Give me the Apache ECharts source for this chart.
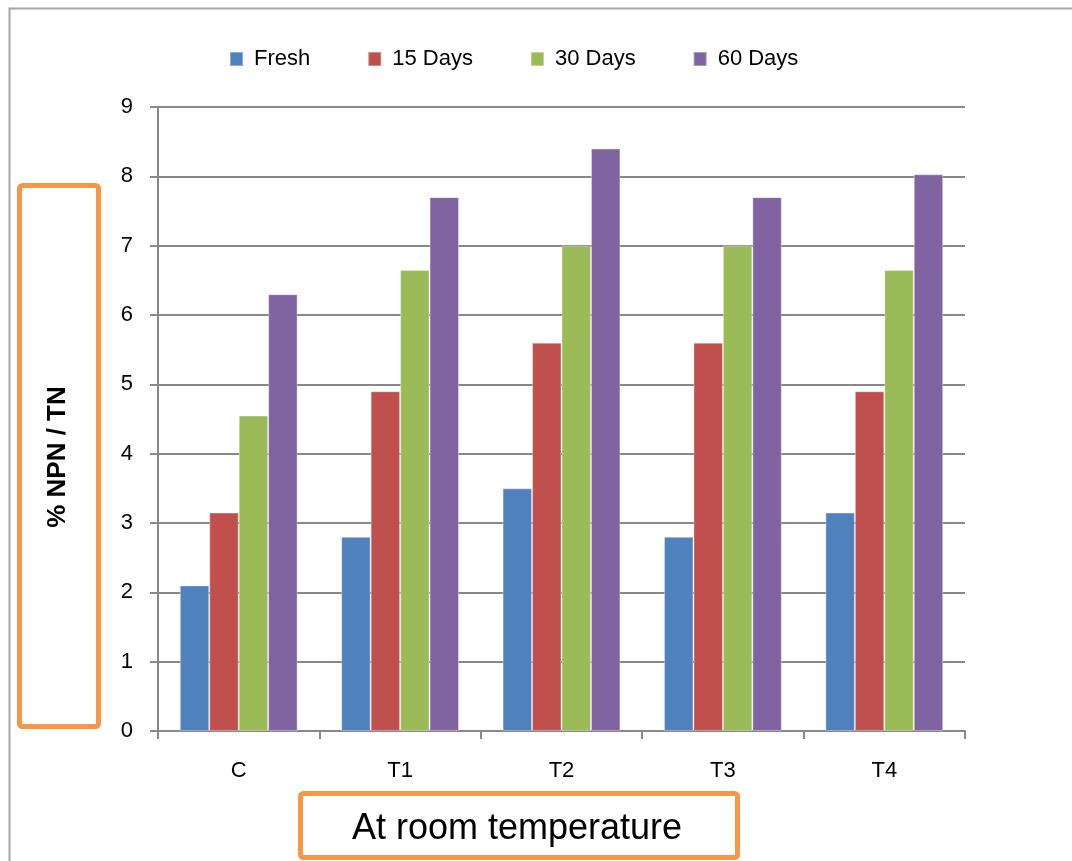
<!DOCTYPE html>
<html>
<head>
<meta charset="utf-8">
<script src="https://cdn.jsdelivr.net/npm/echarts@6/dist/echarts.min.js"></script>
<style>
html,body{margin:0;padding:0;background:#fff;}
#chart{width:1072px;height:861px;}
</style>
</head>
<body>
<div id="chart"></div>
<script>
const categories = ['C', 'T1', 'T2', 'T3', 'T4'];
const seriesNames = ['Fresh', '15 Days', '30 Days', '60 Days'];
const fresh = [2.1, 2.8, 3.5, 2.8, 3.15];
const days15 = [3.15, 4.9, 5.6, 5.6, 4.9];
const days30 = [4.55, 6.65, 7.0, 7.0, 6.65];
const days60 = [6.3, 7.7, 8.4, 7.7, 8.03];
const yTicks = [0, 1, 2, 3, 4, 5, 6, 7, 8, 9];
const yAxisTitle = '% NPN / TN';
const xAxisTitle = 'At room temperature';

const colors = ['#4F81BD', '#C0504D', '#9BBB59', '#8064A2'];
const values = [fresh, days15, days30, days60];
const FONT = '"Liberation Sans", Arial, sans-serif';

const chart = echarts.init(document.getElementById('chart'));
chart.setOption({
  animation: false,
  backgroundColor: '#fff',
  color: colors,
  textStyle: { fontFamily: FONT },
  legend: {
    data: seriesNames,
    left: 224,
    top: 43,
    itemWidth: 13,
    itemHeight: 14,
    itemGap: 57,
    icon: 'rect',
    textStyle: { fontSize: 22, color: '#000', fontFamily: FONT, padding: [0, 0, 0, 6] }
  },
  grid: { left: 158, right: 107, top: 107, bottom: 130, containLabel: false },
  xAxis: {
    type: 'category',
    data: categories,
    axisLine: { show: true, lineStyle: { color: '#888', width: 2 } },
    axisTick: { show: true, alignWithLabel: false, length: 8, lineStyle: { color: '#888', width: 2 } },
    axisLabel: { fontSize: 22, color: '#000', margin: 29, fontFamily: FONT },
    splitLine: { show: false }
  },
  yAxis: {
    type: 'value',
    min: yTicks[0],
    max: yTicks[yTicks.length - 1],
    interval: 1,
    axisLine: { show: true, lineStyle: { color: '#888', width: 2 } },
    axisTick: { show: true, length: 8, lineStyle: { color: '#888', width: 2 } },
    axisLabel: { fontSize: 22, color: '#000', margin: 25, fontFamily: FONT },
    splitLine: { show: true, lineStyle: { color: '#888', width: 2 } }
  },
  series: seriesNames.map((name, i) => ({
    name: name,
    type: 'bar',
    data: values[i],
    barGap: '0%',
    barCategoryGap: '27%',
    itemStyle: { color: colors[i], borderColor: 'rgba(255,255,255,0.35)', borderWidth: 1 }
  })),
  graphic: [
    {
      type: 'rect', left: 7, top: 6, silent: true,
      shape: { width: 1200, height: 1000 },
      style: { fill: 'none', stroke: '#a6a6a6', lineWidth: 2 }
    },
    {
      type: 'rect', left: 17, top: 183, silent: true,
      shape: { x: 0, y: 0, width: 79, height: 541, r: 3 },
      style: { fill: 'none', stroke: '#F79646', lineWidth: 5 }
    },
    {
      type: 'text', silent: true,
      x: 58, y: 457, rotation: Math.PI / 2,
      style: {
        text: yAxisTitle, fontSize: 26, fontWeight: 'bold', fill: '#000',
        fontFamily: FONT, align: 'center', verticalAlign: 'middle'
      }
    },
    {
      type: 'rect', left: 298, top: 791, silent: true,
      shape: { x: 0, y: 0, width: 437, height: 64, r: 3 },
      style: { fill: 'none', stroke: '#F79646', lineWidth: 5 }
    },
    {
      type: 'text', silent: true,
      x: 517, y: 829,
      style: {
        text: xAxisTitle, fontSize: 36, fill: '#000',
        fontFamily: FONT, align: 'center', verticalAlign: 'middle'
      }
    }
  ]
});
</script>
</body>
</html>
